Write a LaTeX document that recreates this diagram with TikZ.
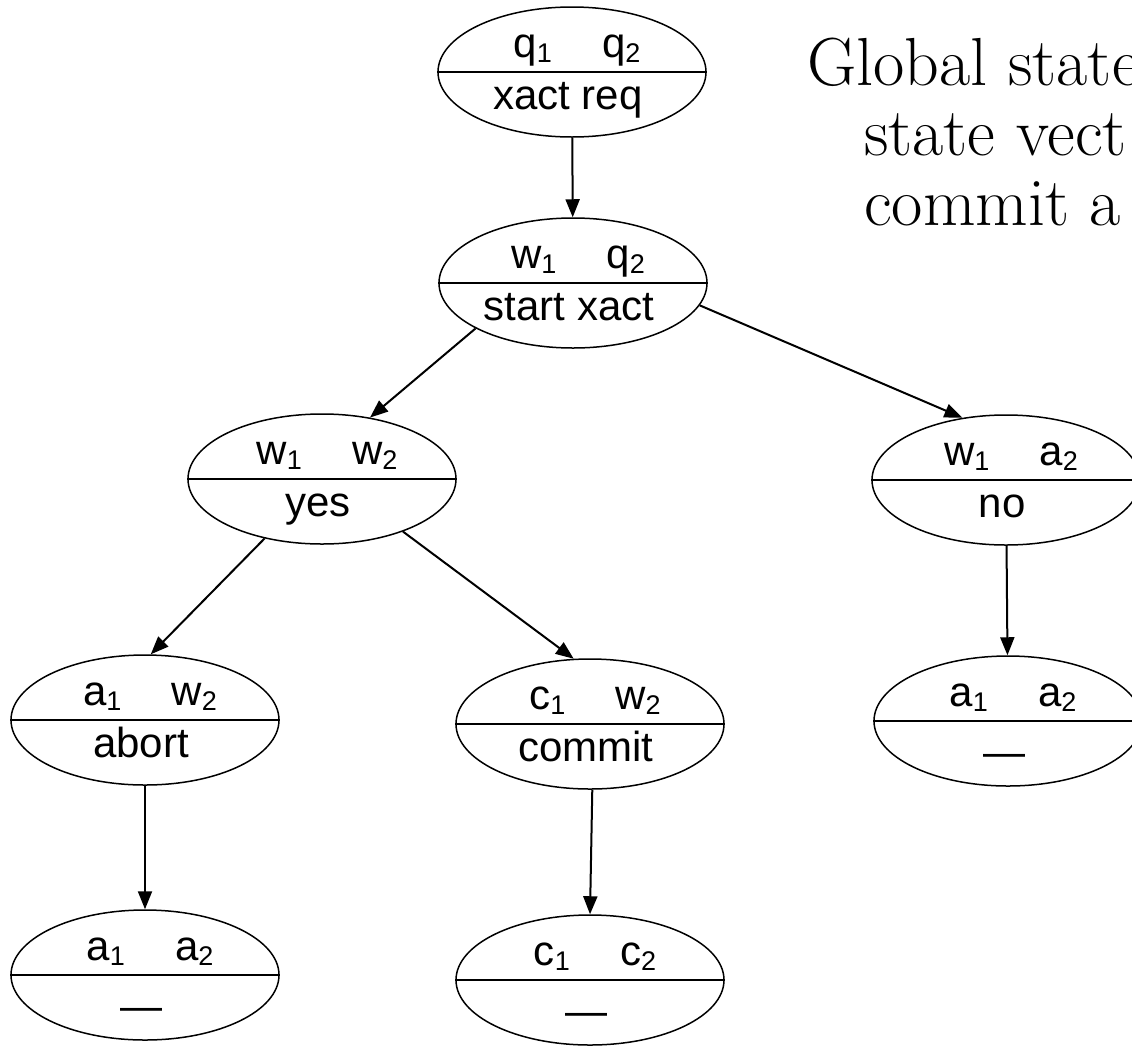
\documentclass[tikz,border=0pt]{standalone}
\usepackage{fontspec}
\setsansfont{Liberation Sans}
\usetikzlibrary{shapes.geometric, arrows.meta}
\tikzset{gstate/.style = {ellipse, draw, line width = 1.5pt,
    minimum width = 268pt, minimum height = 130pt, inner sep = 0pt
    },
    glabel/.style = {font = \sffamily\fontsize{42}{42}\selectfont,
    inner sep = 0pt, anchor = base
    },
    gtrans/.style = {line width = 2pt, -{Triangle[length = 18pt, width = 14pt]}},
    gnote/.style = {font = \fontsize{68}{68}\selectfont, inner sep = 0pt, anchor = base west}
}
\newcommand{\stsub}[1]{\raisebox{-5pt}{\fontsize{27}{27}\selectfont #1}}
\newcommand{\gpair}[2]{#1\hspace{50pt}#2}
\def\nomsg{\raisebox{-8pt}{—}}
% ellipse split in two: name, centre, local states, message
\newcommand{\statenode}[4]{%
    \node (#1) [gstate] at (#2) {};
    \draw [line width = 1.5pt] (#1.west) -- (#1.east);
    \node (#1-top) [glabel] at ([shift = {(5,-15)}]#1.center) {#3};
    \node (#1-bot) [glabel] at ([shift = {(-4,37)}]#1.center) {#4};
}

\begin{document}
\begin{tikzpicture}[x = 1pt, y = -1pt]

    \useasboundingbox (0,0) rectangle (1132,1047);

    \statenode{xreq}{572,72}{\gpair{q\stsub{1}}{q\stsub{2}}}{xact req}
    \statenode{start}{573,283}{\gpair{w\stsub{1}}{q\stsub{2}}}{start xact}
    \statenode{yes}{322,479}{\gpair{w\stsub{1}}{w\stsub{2}}}{yes}
    \statenode{no}{1006,480}{\gpair{w\stsub{1}}{a\stsub{2}}}{no}
    \statenode{abort}{145,720}{\gpair{a\stsub{1}}{w\stsub{2}}}{abort}
    \statenode{commit}{590,724}{\gpair{c\stsub{1}}{w\stsub{2}}}{commit}
    \statenode{aborted}{145,975}{\gpair{a\stsub{1}}{a\stsub{2}}}{\nomsg}
    \statenode{committed}{590,980}{\gpair{c\stsub{1}}{c\stsub{2}}}{\nomsg}
    \statenode{noabort}{1008,721}{\gpair{a\stsub{1}}{a\stsub{2}}}{\nomsg}

    \draw [gtrans] (xreq) -- (start);
    \draw [gtrans] (start.205) -- (yes.52);
    \draw [gtrans] (start.350) -- (no.125);
    \draw [gtrans] (yes.226) -- (abort.85);
    \draw [gtrans] (yes.327) -- (commit.104);
    \draw [gtrans] (abort) -- (aborted);
    \draw [gtrans] (commit.272) -- (committed.90);
    \draw [gtrans] (no) -- (noabort);

    \node (title) [gnote] at (807,85) {Global state};
    \node (vect) [gnote] at (864,155) {state vect};
    \node (cmt) [gnote] at (864,225) {commit a};

\end{tikzpicture}
\end{document}
